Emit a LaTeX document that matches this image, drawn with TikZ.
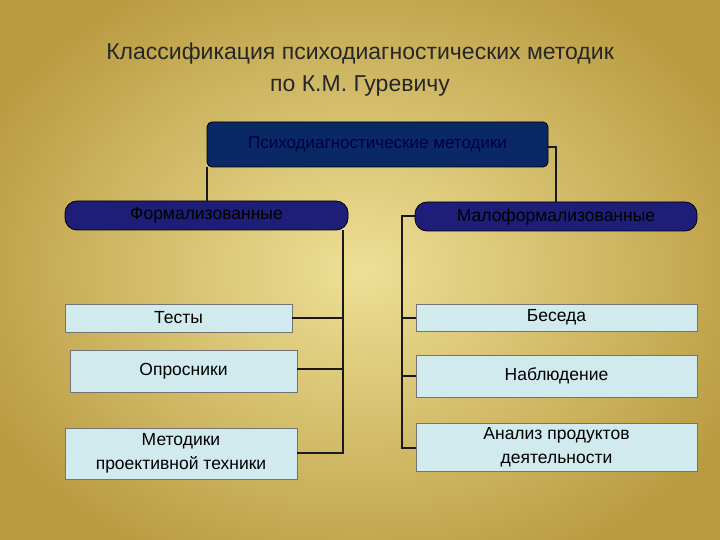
\documentclass[tikz,border=0pt]{standalone}
\usepackage{fontspec}
\setmainfont{Liberation Sans}
\begin{document}
\begin{tikzpicture}[x=1pt,y=-1pt,
  light/.style={draw=black!55,fill=lightc,line width=0.8pt,inner sep=0pt,font=\fontsize{17.5}{24}\selectfont,align=center},
  pill/.style={draw=black,fill=navyp,line width=0.8pt,rounded corners=12pt,inner sep=0pt,font=\fontsize{17.5}{21}\selectfont,text=black},
  conn/.style={line width=2pt,black!90}]
\definecolor{goldin}{RGB}{238,224,150}
\definecolor{goldout}{RGB}{185,155,65}
\definecolor{lightc}{RGB}{208,234,238}
\definecolor{navyp}{RGB}{30,30,120}
\definecolor{navyt}{RGB}{10,40,100}
\useasboundingbox (0,0) rectangle (720,540);
\begin{scope}
\clip (0,0) rectangle (720,540);
\shade[inner color=goldin,outer color=goldout] (-60,-60) rectangle (780,600);
\end{scope}
\node (title) at (360,70) [align=center,font=\fontsize{23}{32}\selectfont,text=black!85] {Классификация психодиагностических методик\\по К.М. Гуревичу};
\node (top) [draw=black,fill=navyt,rounded corners=5pt,line width=0.8pt,minimum width=341pt,minimum height=45pt,font=\fontsize{17}{20}\selectfont,text=black!75!blue] at (377.5,144.5) {Психодиагностические методики};
\node (f) [pill,minimum width=283pt,minimum height=29pt] at (206.5,215.5) {Формализованные};
\node (m) [pill,minimum width=282pt,minimum height=29pt] at (556,216.5) {Малоформализованные};
\node (t) [light,minimum width=227pt,minimum height=28pt] at (178.5,318) {Тесты};
\node (o) [light,minimum width=227pt,minimum height=42pt] at (183.5,371) {Опросники};
\node (p) [light,minimum width=232pt,minimum height=51pt] at (181,453.5) {Методики\\проективной техники};
\node (b) [light,minimum width=281pt,minimum height=27pt] at (556.5,317.5) {Беседа};
\node (n) [light,minimum width=281pt,minimum height=42pt] at (556.5,376) {Наблюдение};
\node (a) [light,minimum width=281pt,minimum height=48pt] at (556.5,447) {Анализ продуктов\\деятельности};
\coordinate (lv) at (343,453);
\coordinate (rv) at (402,448);
\draw[conn] (207,167) -- (f.north -| 207,0);
\draw[conn] (top.east |- 0,147) -- (556,147) -- (m.north -| 556,0);
\draw[conn] (f.south -| lv) -- (lv) -- (p.east |- lv);
\draw[conn] (t.east) -- (t.east -| lv);
\draw[conn] (o.east |- 0,369) -- (lv |- 0,369);
\draw[conn] (m.west) -- (rv |- m.west) -- (rv) -- (a.west |- rv);
\draw[conn] (b.west) -- (b.west -| rv);
\draw[conn] (n.west) -- (n.west -| rv);
\end{tikzpicture}
\end{document}
